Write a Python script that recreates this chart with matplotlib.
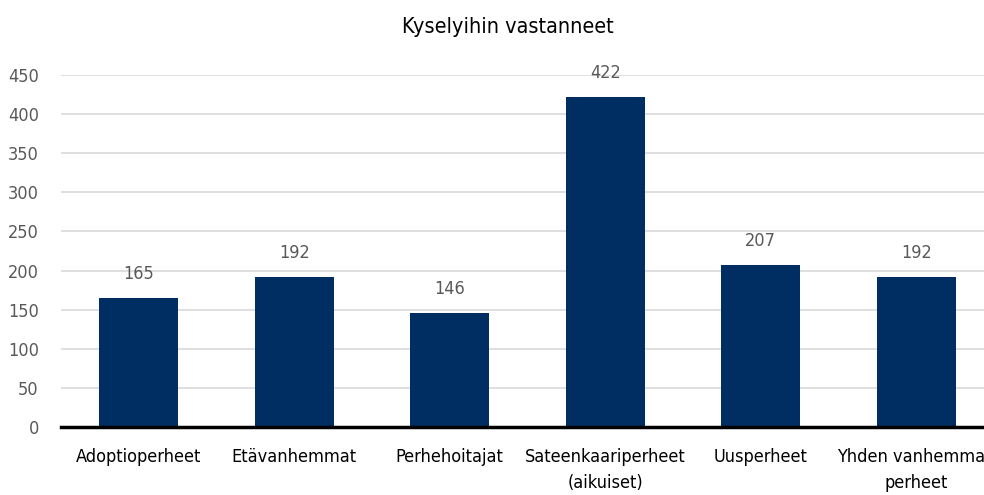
import matplotlib
matplotlib.use("Agg")
import matplotlib.pyplot as plt

categories = ["Adoptioperheet", "Etävanhemmat", "Perhehoitajat",
              "Sateenkaariperheet\n(aikuiset)", "Uusperheet", "Yhden vanhemman\nperheet"]
values = [165, 192, 146, 422, 207, 192]
yticks = [0, 50, 100, 150, 200, 250, 300, 350, 400, 450]
title = "Kyselyihin vastanneet"

plt.rcParams['font.family'] = ['DejaVu Sans']
plt.rcParams['font.stretch'] = 'condensed'

fig = plt.figure(figsize=(9.84, 4.95), dpi=100)
ax = fig.add_axes([61/984, 68/495, 933/984, 352/495])

x = list(range(len(categories)))
bars = ax.bar(x, values, width=0.51, color="#002D62", zorder=3)
ax.set_xlim(-0.5, len(categories) - 0.5)
ax.set_ylim(0, 450)
ax.set_yticks(yticks)
ax.set_yticklabels([str(t) for t in yticks], fontsize=13, color="#595959")
ax.set_xticks(x)
ax.set_xticklabels(categories, fontsize=13, color="black", linespacing=1.55)
ax.tick_params(axis='both', length=0)
ax.tick_params(axis='y', pad=16)
ax.tick_params(axis='x', pad=15)
ax.grid(axis='y', color="#d9d9d9", linewidth=1.2, zorder=0)
for s in ['top', 'right', 'left']:
    ax.spines[s].set_visible(False)
ax.spines['bottom'].set_linewidth(2.5)
ax.spines['bottom'].set_color('black')
ax.spines['bottom'].set_zorder(4)

for b, v in zip(bars, values):
    ax.annotate(str(v), (b.get_x() + b.get_width()/2, v), xytext=(0, 11),
                textcoords='offset points', ha='center', va='bottom',
                fontsize=13, color="#595959")

fig.text(508/984, 1 - 27/495, title, ha='center', va='center', fontsize=15.5, color='black')

fig.savefig("out.png", dpi=100)
